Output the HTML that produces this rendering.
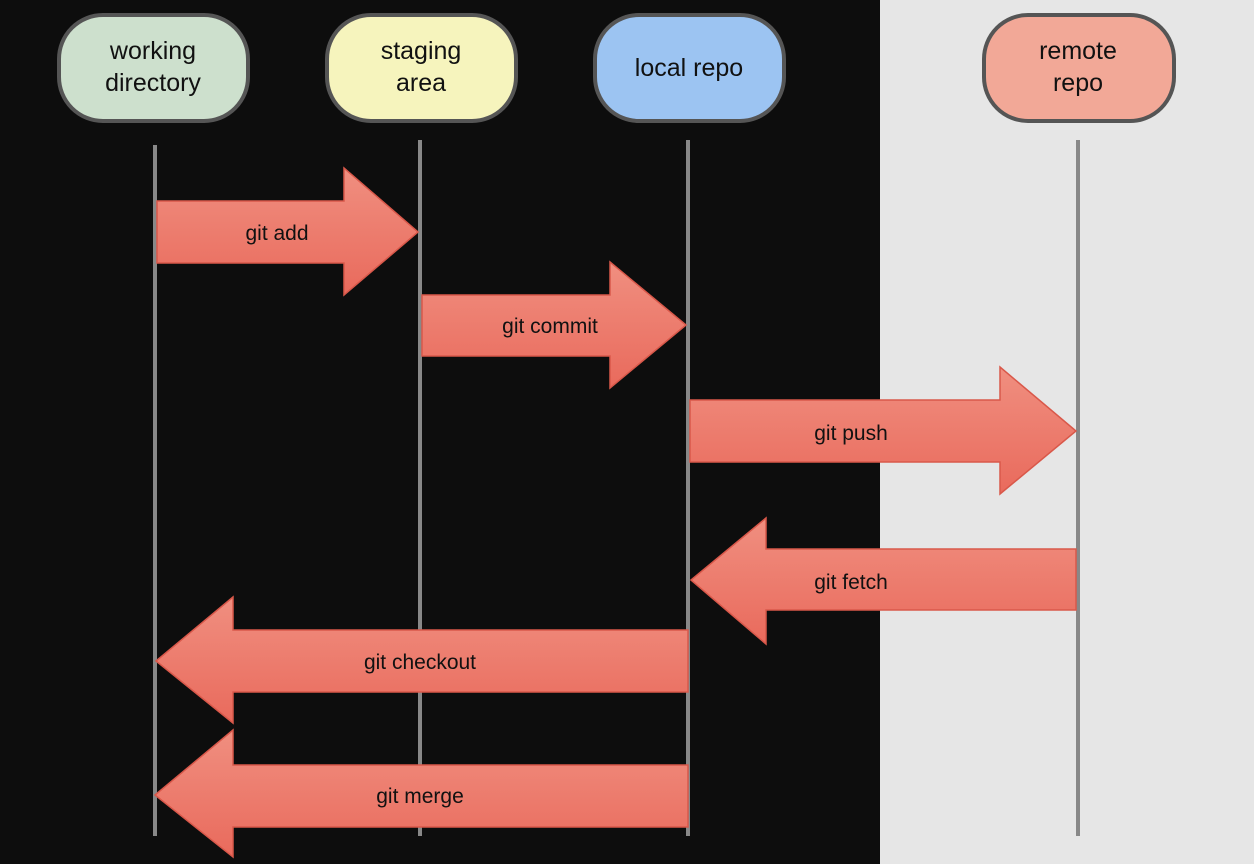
<!DOCTYPE html>
<html><head><style>
body{margin:0;width:1254px;height:864px;overflow:hidden;background:#0d0d0d;font-family:"Liberation Sans",sans-serif}
</style></head><body>
<svg width="1254" height="864" xmlns="http://www.w3.org/2000/svg" style="position:absolute;left:0;top:0">
<rect x="0" y="0" width="1254" height="864" fill="#0d0d0d"/>
<rect x="880" y="0" width="374" height="864" fill="#e6e6e6"/>
<defs><linearGradient id="g" x1="0" y1="0" x2="0" y2="1"><stop offset="0" stop-color="#f08f80"/><stop offset="1" stop-color="#e96a5c"/></linearGradient></defs>
<g stroke="#888" stroke-width="4">
<line x1="155" y1="145" x2="155" y2="836"/>
<line x1="420" y1="140" x2="420" y2="836"/>
<line x1="688" y1="140" x2="688" y2="836"/>
<line x1="1078" y1="140" x2="1078" y2="836"/>
</g>
<g stroke="#555" stroke-width="4">
<rect x="59" y="15" width="189" height="106" rx="44" fill="#cde0cd"/>
<rect x="327" y="15" width="189" height="106" rx="44" fill="#f6f4bd"/>
<rect x="595" y="15" width="189" height="106" rx="44" fill="#9cc4f2"/>
<rect x="984" y="15" width="190" height="106" rx="44" fill="#f2a897"/>
</g>
<g font-size="25" fill="#111" text-anchor="middle">
<text x="153" y="59">working</text><text x="153" y="91">directory</text>
<text x="421" y="59">staging</text><text x="421" y="91">area</text>
<text x="689" y="76">local repo</text>
<text x="1078" y="59">remote</text><text x="1078" y="91">repo</text>
</g>
<g fill="url(#g)" stroke="#d9584a" stroke-width="1.5">
<polygon points="157,201 344,201 344,168 418,232 344,295 344,263 157,263"/>
<polygon points="422,295 610,295 610,262 686,325 610,388 610,356 422,356"/>
<polygon points="690,400 1000,400 1000,367 1076,431 1000,494 1000,462 690,462"/>
<polygon points="1076,549 766,549 766,518 691,580 766,644 766,610 1076,610"/>
<polygon points="688,630 233,630 233,597 156,661 233,723 233,692 688,692"/>
<polygon points="688,765 233,765 233,730 155,795 233,857 233,827 688,827"/>
</g>
<g font-size="21" fill="#111" text-anchor="middle">
<text x="277" y="240">git add</text>
<text x="550" y="333">git commit</text>
<text x="851" y="440">git push</text>
<text x="851" y="589">git fetch</text>
<text x="420" y="669">git checkout</text>
<text x="420" y="803">git merge</text>
</g>
</svg>
</body></html>
